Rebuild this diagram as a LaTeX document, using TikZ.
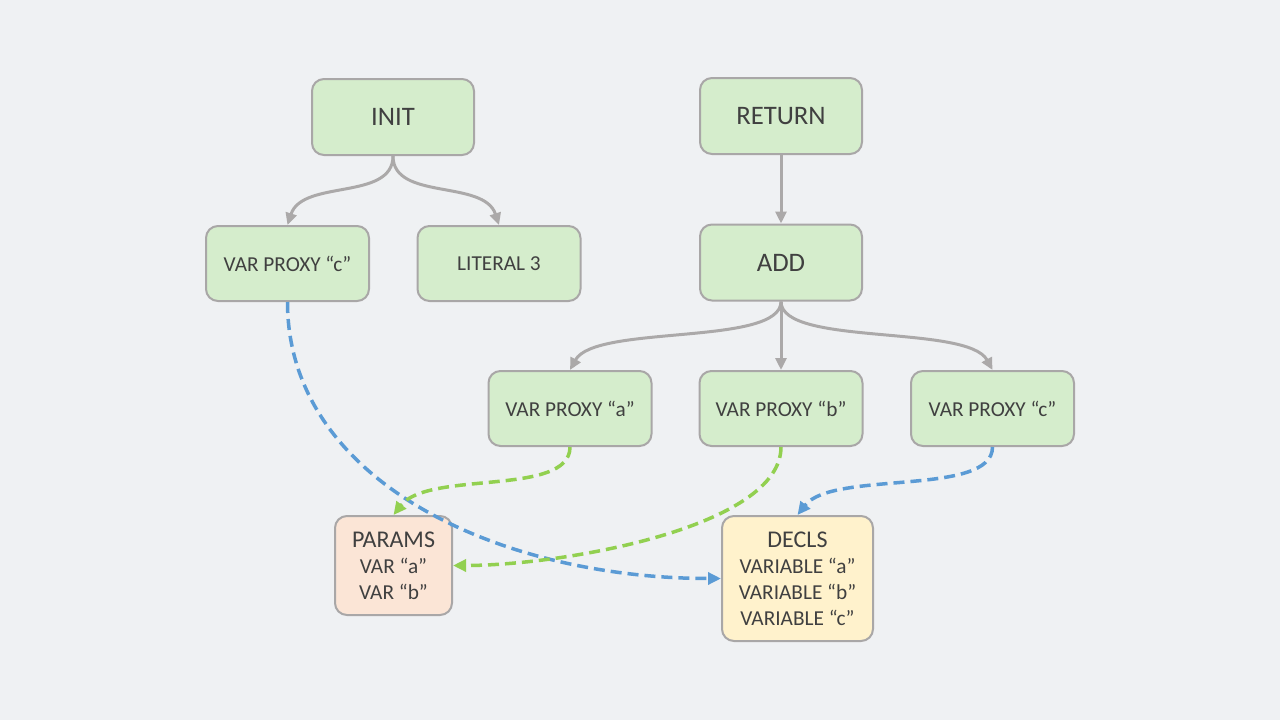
\documentclass[tikz,border=0pt]{standalone}
\usepackage{fontspec}
\setmainfont{Carlito}
\usetikzlibrary{arrows.meta}
\definecolor{bg}{HTML}{EFF1F3}
\definecolor{nodegreen}{HTML}{D5EDCC}
\definecolor{nodeorange}{HTML}{FBE5D6}
\definecolor{nodeyellow}{HTML}{FFF2CC}
\definecolor{edgegray}{HTML}{ABA9A9}
\definecolor{bordergray}{HTML}{A9A7A7}
\definecolor{txt}{HTML}{404040}
\definecolor{eblue}{HTML}{5B9BD5}
\definecolor{egreen}{HTML}{92D050}
\tikzset{
  box/.style={draw=bordergray, line width=2pt, rounded corners=12pt, fill=nodegreen,
    text=txt, inner sep=0pt, align=center},
  bigbox/.style={box, minimum width=162pt, minimum height=76pt, font=\fontsize{26.7}{30}\selectfont},
  smallbox/.style={box, minimum width=163pt, minimum height=75pt, font=\fontsize{21.3}{25}\selectfont},
  tree/.style={draw=edgegray, line width=3pt, -{Triangle[length=12pt,width=11pt]}},
  ref/.style={line width=3.5pt, dash pattern=on 11pt off 6pt, -{Triangle[length=13pt,width=12pt]}},
}
\begin{document}
\begin{tikzpicture}[x=1pt,y=-1pt]
\fill[bg] (0,0) rectangle (1280,720);
\useasboundingbox (0,0) rectangle (1280,720);

\node[bigbox] (init) at (393,117) {INIT};
\node[bigbox] (ret) at (781,116) {RETURN};
\node[smallbox] (vpc1) at (287.5,263.5) {VAR PROXY “c”};
\node[smallbox] (lit) at (499,263.5) {LITERAL 3};
\node[bigbox] (add) at (781,262.5) {ADD};
\node[smallbox] (vpa) at (570,408.5) {VAR PROXY “a”};
\node[smallbox] (vpb) at (781,408.5) {VAR PROXY “b”};
\node[smallbox] (vpc2) at (992.5,408.5) {VAR PROXY “c”};
\node[box, fill=nodeorange, minimum width=117pt, minimum height=99pt,
  font=\fontsize{21.3}{26}\selectfont] (params) at (393.5,565.5)
  {{\fontsize{24}{26}\selectfont PARAMS}\\VAR “a”\\VAR “b”};
\node[box, fill=nodeyellow, minimum width=151pt, minimum height=125pt,
  font=\fontsize{21.3}{26}\selectfont] (decls) at (797.5,578.5)
  {{\fontsize{24}{26}\selectfont DECLS}\\VARIABLE “a”\\VARIABLE “b”\\VARIABLE “c”};

% tree edges
\draw[tree] (init.south) .. controls +(0,45) and +(15,-46) .. (vpc1.north);
\draw[tree] (init.south) .. controls +(0,45) and +(-15,-46) .. (lit.north);
\draw[tree] (ret.south) -- (add.north);
\draw[tree] (add.south) .. controls +(0,45) and +(25,-46) .. (vpa.north);
\draw[tree] (add.south) -- (vpb.north);
\draw[tree] (add.south) .. controls +(0,45) and +(-25,-46) .. (vpc2.north);

% reference edges
\draw[ref, eblue] (vpc1.south) .. controls +(0,180) and +(-220,0) .. (decls.west);
\draw[ref, egreen] (vpa.south) .. controls +(0,50) and +(35,-45) .. (params.north);
\draw[ref, egreen] (vpb.south) .. controls +(0,80) and +(110,0) .. (params.east);
\draw[ref, eblue] (vpc2.south) .. controls +(0,50) and +(35,-45) .. (decls.north);
\end{tikzpicture}
\end{document}
